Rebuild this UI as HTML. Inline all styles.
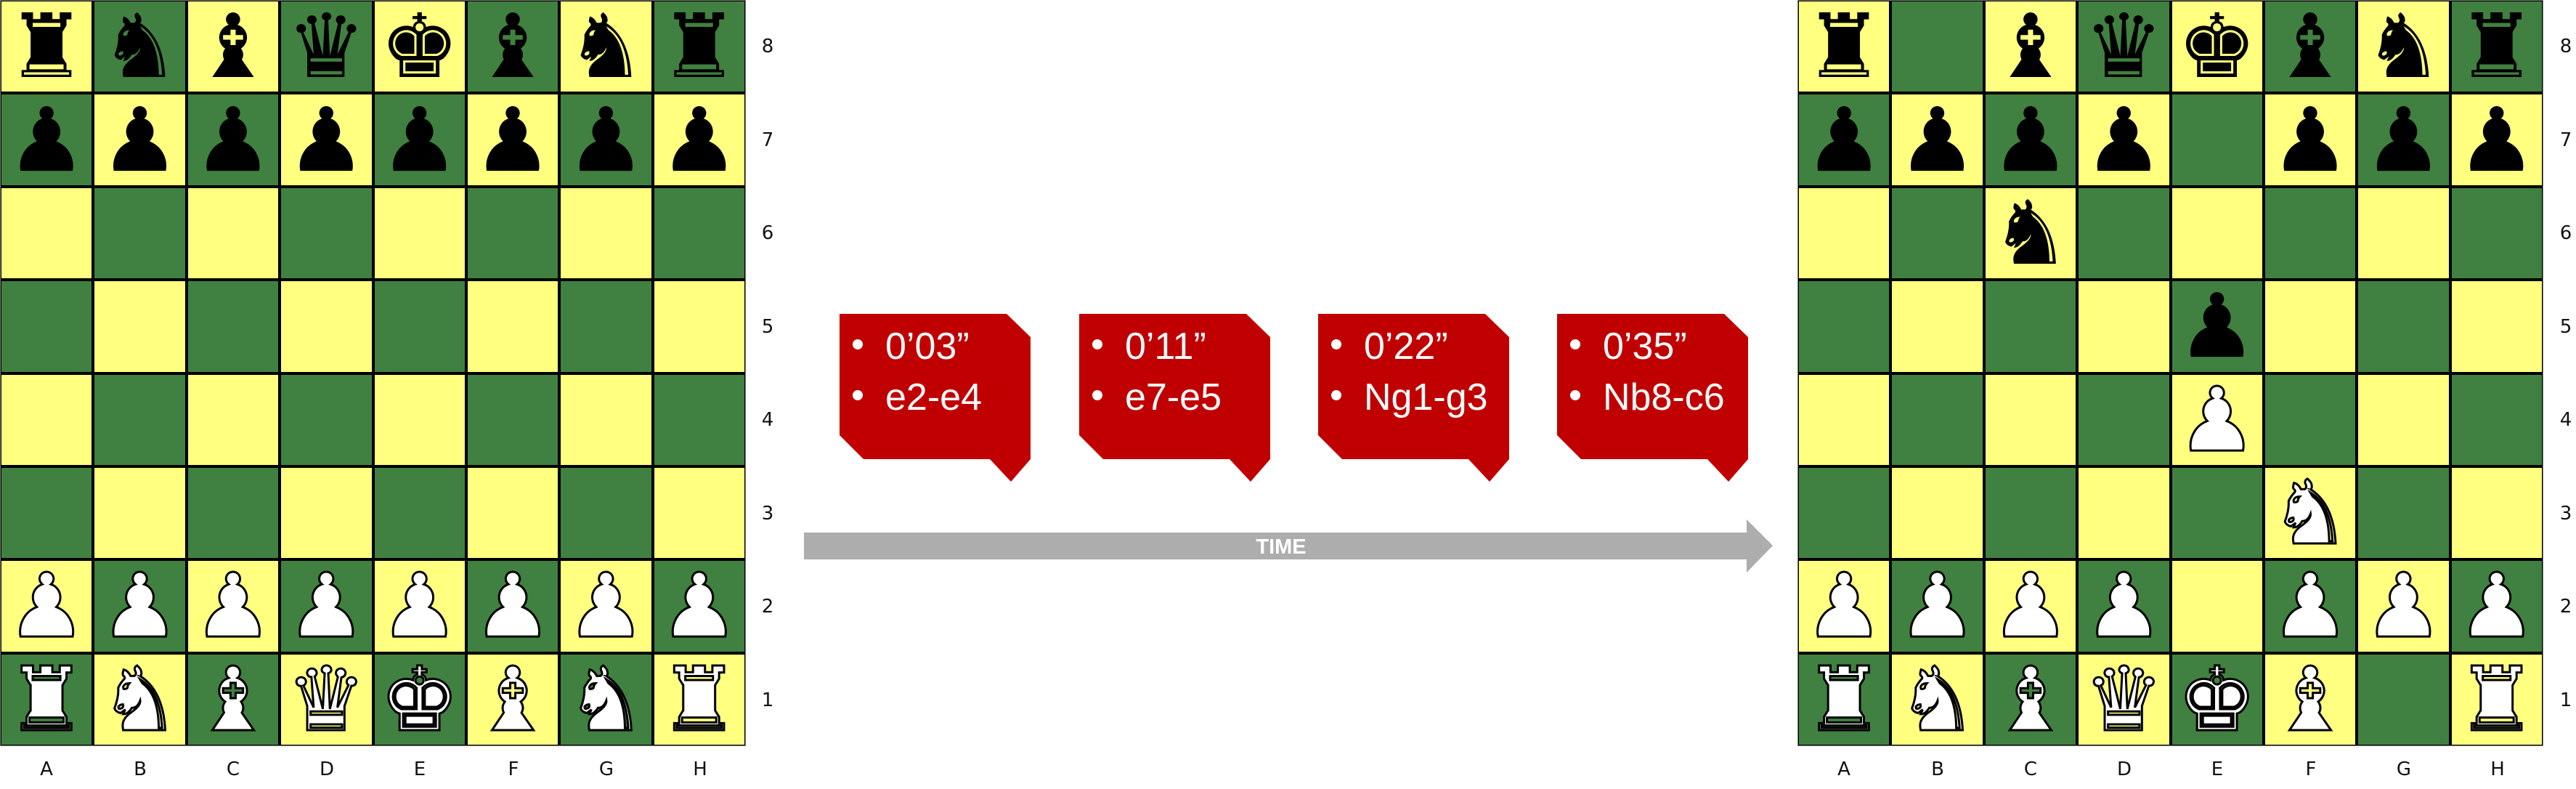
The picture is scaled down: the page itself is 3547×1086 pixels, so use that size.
<!DOCTYPE html>
<html><head><meta charset="utf-8">
<style>
*{margin:0;padding:0;box-sizing:border-box}
body{width:3547px;height:1086px;background:#fff;position:relative;overflow:hidden;font-family:"Liberation Sans",sans-serif}
.board{position:absolute;top:0;width:1027px;height:1027px;background:#000;display:grid;grid-template-columns:repeat(8,1fr);grid-template-rows:repeat(8,1fr);gap:4px;padding:1px;border:1px solid #777}
.board div{background:#408040;display:flex;align-items:center;justify-content:center;font-family:"DejaVu Sans",sans-serif;font-size:122px;line-height:1;color:#000;overflow:hidden}
.board div:nth-child(16n+1),.board div:nth-child(16n+3),.board div:nth-child(16n+5),.board div:nth-child(16n+7),
.board div:nth-child(16n+10),.board div:nth-child(16n+12),.board div:nth-child(16n+14),.board div:nth-child(16n+16){background:#ffff80}
.board div.w{color:#fff;-webkit-text-stroke:3px #000}
.lbl{position:absolute;font-family:"DejaVu Sans",sans-serif;font-size:26px;color:#111;width:40px;text-align:center;line-height:30px}
</style></head><body>

<div class="board" style="left:0">
<div>♜</div><div>♞</div><div>♝</div><div>♛</div><div>♚</div><div>♝</div><div>♞</div><div>♜</div>
<div>♟</div><div>♟</div><div>♟</div><div>♟</div><div>♟</div><div>♟</div><div>♟</div><div>♟</div>
<div></div><div></div><div></div><div></div><div></div><div></div><div></div><div></div>
<div></div><div></div><div></div><div></div><div></div><div></div><div></div><div></div>
<div></div><div></div><div></div><div></div><div></div><div></div><div></div><div></div>
<div></div><div></div><div></div><div></div><div></div><div></div><div></div><div></div>
<div class="w">♟</div><div class="w">♟</div><div class="w">♟</div><div class="w">♟</div><div class="w">♟</div><div class="w">♟</div><div class="w">♟</div><div class="w">♟</div>
<div class="w">♜</div><div class="w">♞</div><div class="w">♝</div><div class="w">♛</div><div class="w">♚</div><div class="w">♝</div><div class="w">♞</div><div class="w">♜</div>
</div>

<div class="board" style="left:2475px">
<div>♜</div><div></div><div>♝</div><div>♛</div><div>♚</div><div>♝</div><div>♞</div><div>♜</div>
<div>♟</div><div>♟</div><div>♟</div><div>♟</div><div></div><div>♟</div><div>♟</div><div>♟</div>
<div></div><div></div><div>♞</div><div></div><div></div><div></div><div></div><div></div>
<div></div><div></div><div></div><div></div><div>♟</div><div></div><div></div><div></div>
<div></div><div></div><div></div><div></div><div class="w">♟</div><div></div><div></div><div></div>
<div></div><div></div><div></div><div></div><div></div><div class="w">♞</div><div></div><div></div>
<div class="w">♟</div><div class="w">♟</div><div class="w">♟</div><div class="w">♟</div><div></div><div class="w">♟</div><div class="w">♟</div><div class="w">♟</div>
<div class="w">♜</div><div class="w">♞</div><div class="w">♝</div><div class="w">♛</div><div class="w">♚</div><div class="w">♝</div><div></div><div class="w">♜</div>
</div>

<div class="lbl" style="left:1037px;top:49px">8</div>
<div class="lbl" style="left:1037px;top:178px">7</div>
<div class="lbl" style="left:1037px;top:306px">6</div>
<div class="lbl" style="left:1037px;top:435px">5</div>
<div class="lbl" style="left:1037px;top:563px">4</div>
<div class="lbl" style="left:1037px;top:692px">3</div>
<div class="lbl" style="left:1037px;top:820px">2</div>
<div class="lbl" style="left:1037px;top:949px">1</div>
<div class="lbl" style="left:44px;top:1044px">A</div>
<div class="lbl" style="left:173px;top:1044px">B</div>
<div class="lbl" style="left:301px;top:1044px">C</div>
<div class="lbl" style="left:430px;top:1044px">D</div>
<div class="lbl" style="left:558px;top:1044px">E</div>
<div class="lbl" style="left:687px;top:1044px">F</div>
<div class="lbl" style="left:815px;top:1044px">G</div>
<div class="lbl" style="left:944px;top:1044px">H</div>
<div class="lbl" style="left:3513px;top:49px">8</div>
<div class="lbl" style="left:3513px;top:178px">7</div>
<div class="lbl" style="left:3513px;top:306px">6</div>
<div class="lbl" style="left:3513px;top:435px">5</div>
<div class="lbl" style="left:3513px;top:563px">4</div>
<div class="lbl" style="left:3513px;top:692px">3</div>
<div class="lbl" style="left:3513px;top:820px">2</div>
<div class="lbl" style="left:3513px;top:949px">1</div>
<div class="lbl" style="left:2519px;top:1044px">A</div>
<div class="lbl" style="left:2648px;top:1044px">B</div>
<div class="lbl" style="left:2776px;top:1044px">C</div>
<div class="lbl" style="left:2905px;top:1044px">D</div>
<div class="lbl" style="left:3033px;top:1044px">E</div>
<div class="lbl" style="left:3162px;top:1044px">F</div>
<div class="lbl" style="left:3290px;top:1044px">G</div>
<div class="lbl" style="left:3419px;top:1044px">H</div>

<svg style="position:absolute;left:0;top:0" width="3547" height="1086">
<polygon points="1107,733 2405,733 2405,715 2441,751 2405,788 2405,770 1107,770" fill="#adadad"/>
<text x="1764" y="762" fill="#fff" font-family="Liberation Sans" font-weight="bold" font-size="29" text-anchor="middle">TIME</text>
<g fill="#c00000">
<polygon transform="translate(1156,432)" points="0,0 230,0 263,32 263,200 236,231 207,200 33,200 0,167"/>
<polygon transform="translate(1486,432)" points="0,0 230,0 263,32 263,200 236,231 207,200 33,200 0,167"/>
<polygon transform="translate(1815,432)" points="0,0 230,0 263,32 263,200 236,231 207,200 33,200 0,167"/>
<polygon transform="translate(2144,432)" points="0,0 230,0 263,32 263,200 236,231 207,200 33,200 0,167"/>
</g>
<g fill="#fff" font-family="Liberation Sans" font-size="52">
<circle cx="1181" cy="474" r="7"/><circle cx="1181" cy="544" r="7"/>
<circle cx="1511" cy="474" r="7"/><circle cx="1511" cy="544" r="7"/>
<circle cx="1840" cy="474" r="7"/><circle cx="1840" cy="544" r="7"/>
<circle cx="2169" cy="474" r="7"/><circle cx="2169" cy="544" r="7"/>
<text x="1219" y="494">0’03”</text><text x="1219" y="564">e2-e4</text>
<text x="1549" y="494">0’11”</text><text x="1549" y="564">e7-e5</text>
<text x="1878" y="494">0’22”</text><text x="1878" y="564">Ng1-g3</text>
<text x="2207" y="494">0’35”</text><text x="2207" y="564">Nb8-c6</text>
</g>
</svg>
</body></html>
